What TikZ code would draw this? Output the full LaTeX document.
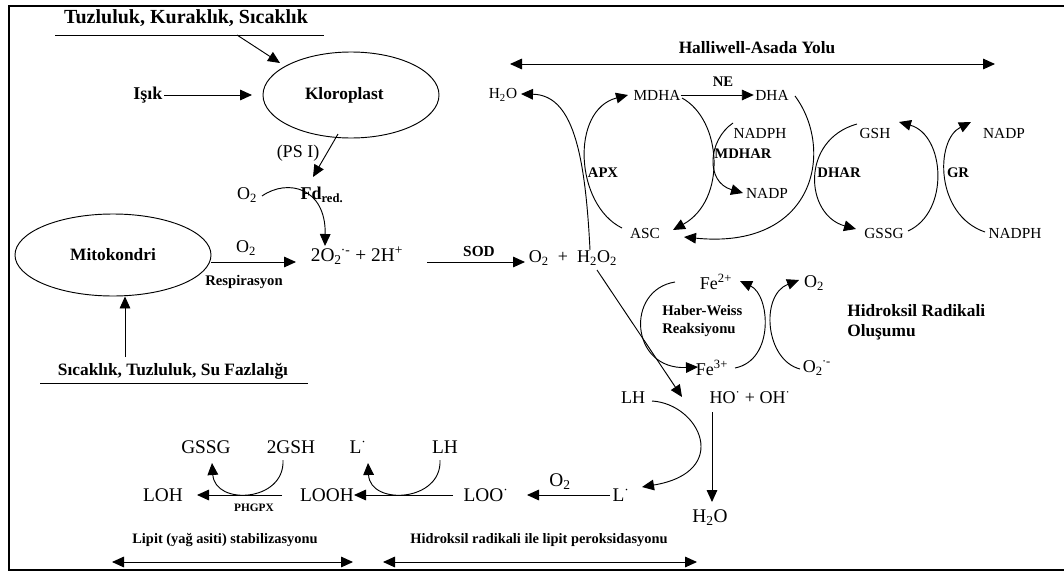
\documentclass[tikz,border=0pt]{standalone}
\usepackage{fontspec}
\setmainfont{Liberation Serif}
\usetikzlibrary{arrows.meta,shapes.geometric}
\begin{document}
\begin{tikzpicture}[x=0.75pt,y=-0.75pt,
  ln/.style={line width=0.7pt},
  ar/.style={ln,-{Triangle[length=9pt,width=8pt]}},
  dar/.style={ln,{Triangle[length=9pt,width=8pt]}-{Triangle[length=9pt,width=8pt]}},
  hd/.style={font=\fontsize{13}{15}\selectfont\bfseries, inner sep=0pt},
  lb/.style={font=\fontsize{11.5}{13}\selectfont, inner sep=0pt},
  lbb/.style={font=\fontsize{13.5}{15}\selectfont, inner sep=0pt},
  lbl/.style={font=\fontsize{14.5}{16}\selectfont, inner sep=0pt},
  en/.style={font=\fontsize{11}{13}\selectfont\bfseries, inner sep=0pt},
  bt/.style={font=\fontsize{10.8}{13}\selectfont\bfseries, inner sep=0pt},
  ell/.style={draw, ellipse, ln, inner sep=0pt, font=\fontsize{13}{15}\selectfont\bfseries},
]
\useasboundingbox (0,0) rectangle (1064,575);
\draw[line width=2.2pt] (1064,6) -- (9,6) -- (9,570) -- (1064,570);

% ---- chloroplast part
\node[font=\fontsize{15}{17}\selectfont\bfseries, inner sep=0pt] (t1) at (186,18) {Tuzluluk, Kuraklık, Sıcaklık};
\coordinate (t1l) at (55,35);
\coordinate (t1r) at (324,35);
\draw[ln] (t1l) -- (t1r);
\node[ell, minimum width=132pt, minimum height=64.5pt] (klo) at (351,95) {\hspace*{-10pt}Kloroplast};
\coordinate (t1a) at (237,35);
\coordinate (kloa) at (280,63);
\draw[ar] (t1a) -- (kloa);
\node[font=\fontsize{13.5}{15}\selectfont\bfseries, inner sep=0pt] (isik) at (148,95) {Işık};
\coordinate (klob) at (252,95);
\draw[ar] ([xshift=1pt]isik.east) -- (klob);
\node[lbb] (psi) at (298,153) {(PS I)};
\coordinate (kloc) at (338,134);
\coordinate (fdtop) at (313,177);
\draw[ar] (kloc) -- (fdtop);
\node[lbb] (o2a) at (247,195) {O\textsubscript{2}};
\node[lbb] (fd) at (322,195) {\textbf{Fd}\textsubscript{\textbf{red.}}};
\node[font=\fontsize{14.5}{16}\selectfont, inner sep=0pt] (sup) at (357,256) {2O\textsubscript{2}\kern-0.05em\textsuperscript{·-} + 2H\textsuperscript{+}};
\coordinate (supt) at (325,246);
\draw[ar] (262,196) .. controls (288,178) and (326,188) .. (supt);

% ---- mitochondria part
\node[ell, minimum width=147pt, minimum height=61.5pt] (mito) at (113,255) {Mitokondri};
\coordinate (supl) at (296,262);
\draw[ar] (mito.east |- supl) -- (supl);
\node[lbb] (o2b) at (246,248) {O\textsubscript{2}};
\node[font=\fontsize{11}{13}\selectfont\bfseries, inner sep=0pt] (resp) at (244,282) {Respirasyon};
\node[hd] (t2) at (173,371) {Sıcaklık, Tuzluluk, Su Fazlalığı};
\coordinate (t2l) at (40,383);
\coordinate (t2r) at (308,383);
\draw[ln] (t2l) -- (t2r);
\coordinate (t2a) at (125,357);
\draw[ar] (t2a) -- (mito.south -| t2a);

% ---- SOD
\coordinate (sodl) at (427,262);
\coordinate (sodr) at (525,262);
\draw[ar] (sodl) -- (sodr);
\node[font=\fontsize{11.5}{13}\selectfont\bfseries, inner sep=0pt] (sod) at (479,251) {SOD};
\node[lbb] (prod) at (573,258) {O\textsubscript{2}\hspace{0.5em}+\hspace{0.5em}H\textsubscript{2}O\textsubscript{2}};

% ---- Halliwell-Asada
\node[hd] (ha) at (757,48) {Halliwell-Asada Yolu};
\coordinate (hal) at (510,64);
\coordinate (har) at (995,64);
\draw[dar] (hal) -- (har);

\node[lb] (h2oa) at (503,95) {H\textsubscript{2}O};
\node[lb] (mdha) at (657,95) {MDHA};
\node[lb] (dha) at (772,95) {DHA};
\node[lb] (asc) at (645,233) {ASC};
\node[lb] (nadph1) at (760,133) {NADPH};
\node[lb] (nadp1) at (767,193) {NADP};
\node[lb] (gsh) at (875,133) {GSH};
\node[lb] (gssg) at (884,233) {GSSG};
\node[lb] (nadp2) at (1004,133) {NADP};
\node[lb] (nadph2) at (1015,233) {NADPH};
\node[en] (ne) at (723,82) {NE};
\node[en] (apx) at (603,173) {APX};
\node[en] (mdhar) at (743,154) {MDHAR};
\node[en] (dhar) at (839,173) {DHAR};
\node[en] (gr) at (958,173) {GR};

\draw[ar] (590,250) .. controls (585,150) and (572,95) .. (521,94);
\draw[ar] (mdha.east) -- ([xshift=-1pt]dha.west);
\draw[ar] (622,228) .. controls (575,205) and (570,110) .. (628,95);
\draw[ar] (682,98) .. controls (722,120) and (727,200) .. (673,230);
\draw[ar] (733,123) .. controls (708,140) and (705,182) .. (743,193);
\draw[ar] (795,96) .. controls (835,150) and (815,250) .. (684,237);
\draw[ar] (857,124) .. controls (800,140) and (805,215) .. (856,229);
\draw[ar] (908,231) .. controls (950,212) and (945,135) .. (899,122);
\draw[ar] (985,232) .. controls (935,215) and (935,140) .. (971,122);

% ---- Haber-Weiss
\node[lbb] (fe2) at (716,282) {Fe\textsuperscript{2+}};
\node[lbb] (o2c) at (814,283) {O\textsubscript{2}};
\node[lbb] (fe3) at (712,368) {Fe\textsuperscript{3+}};
\node[lbb] (o2m) at (817,368) {O\textsubscript{2}\kern-0.05em\textsuperscript{·-}};
\node[font=\fontsize{11}{13.5}\selectfont\bfseries, inner sep=0pt, anchor=west, align=left] (hw) at (662,321) {Haber-Weiss\\Reaksiyonu};
\node[font=\fontsize{13}{15}\selectfont\bfseries, inner sep=0pt, anchor=west, align=left] (hr) at (847,322) {Hidroksil Radikali\\Oluşumu};
\draw[ar] (675,282) .. controls (625,290) and (630,370) .. (698,367);
\draw[ar] (735,368) .. controls (775,360) and (770,295) .. (740,281);
\draw[ar] (800,369) .. controls (765,360) and (760,295) .. (799,280);

% ---- hydroxyl radical & lipid peroxidation
\node[lbb] (lh1) at (633,398) {LH};
\node[lbb] (ho) at (750,398) {HO\textsuperscript{·} + OH\textsuperscript{·}};
\node[lbl] (h2ob) at (710,518) {H\textsubscript{2}O};
\draw[ar] (597,270) -- (682,397);
\draw[ar] (712,412) -- (712,502);
\node[lbl] (lrad) at (621,495) {L\textsuperscript{·}};
\draw[ar] (652,401) .. controls (700,404) and (732,472) .. (642,487);
\node[lbl] (loo) at (486,495) {LOO\textsuperscript{·}};
\node[lbl] (o2d) at (560,482) {O\textsubscript{2}};
\draw[ar] (610,495) -- (527,495);
\node[lbl] (lh2) at (445,447) {LH};
\node[lbl] (lrad2) at (358,447) {L\textsuperscript{·}};
\node[lbl] (looh) at (327,495) {LOOH};
\draw[ar] (453,495) -- (354,495);
\draw[ar] (440,460) .. controls (442,502) and (370,506) .. (368,463);
\node[lbl] (loh) at (163,495) {LOH};
\node[lbl] (gssg2) at (206,447) {GSSG};
\node[lbl] (gsh2) at (291,447) {2GSH};
\draw[ar] (282,495) -- (197,495);
\draw[ar] (283,460) .. controls (285,502) and (215,506) .. (212,463);
\node[font=\fontsize{8.5}{10}\selectfont\bfseries, inner sep=0pt] (phgpx) at (254,508) {PHGPX};

% ---- bottom
\node[bt] (lip) at (225,540) {Lipit (yağ asiti) stabilizasyonu};
\node[bt] (hrl) at (539,540) {Hidroksil radikali ile lipit peroksidasyonu};
\coordinate (b1l) at (112,562);
\coordinate (b1r) at (353,562);
\coordinate (b2l) at (383,562);
\coordinate (b2r) at (697,562);
\draw[dar] (b1l) -- (b1r);
\draw[dar] (b2l) -- (b2r);
\end{tikzpicture}
\end{document}
